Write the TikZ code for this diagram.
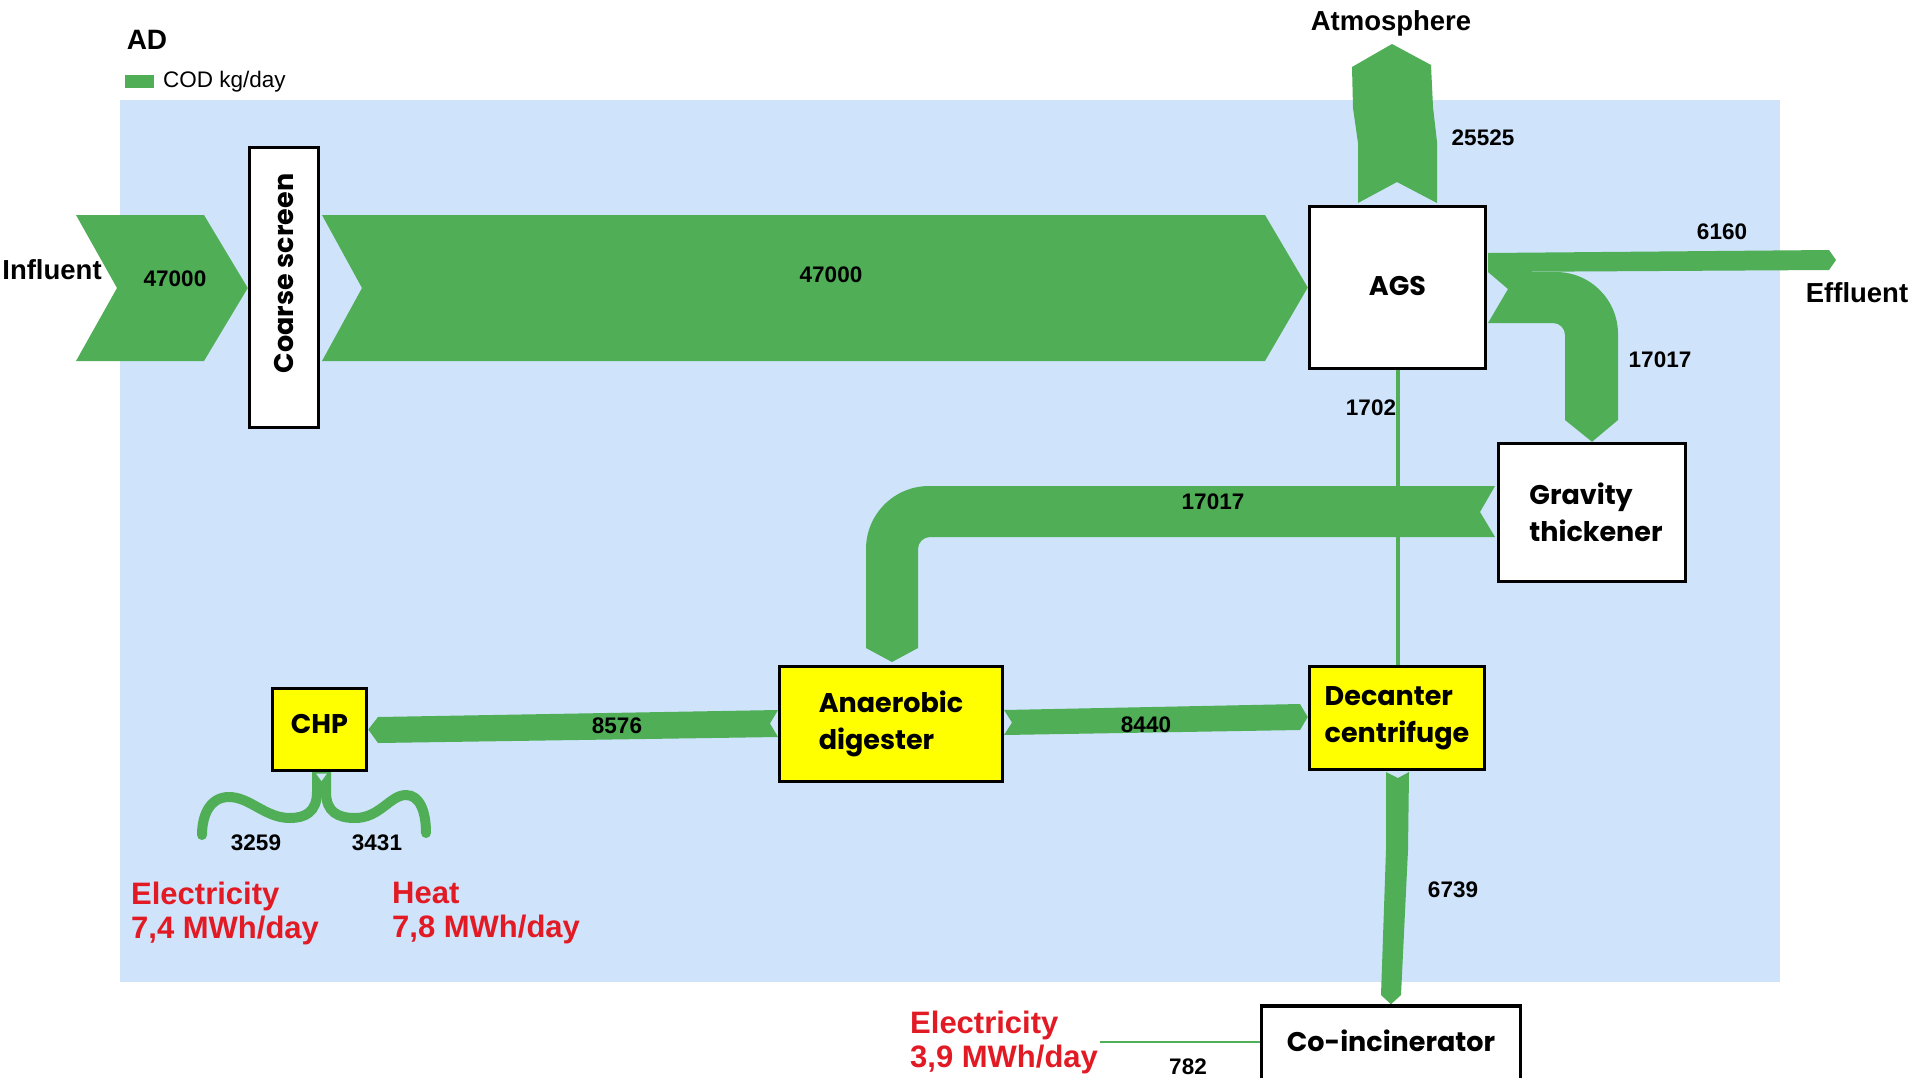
\documentclass[tikz,border=0pt]{standalone}
\usepackage{fontspec}
\setmainfont{Liberation Sans}
\newfontfamily\boxfont{Poppins}
\usetikzlibrary{calc}

\definecolor{flowgreen}{RGB}{79,174,86}
\definecolor{panelblue}{RGB}{207,227,250}
\definecolor{boxyellow}{RGB}{255,255,0}
\definecolor{energyred}{RGB}{226,26,36}

\pgfdeclarelayer{back}
\pgfdeclarelayer{mid}
\pgfsetlayers{back,mid,main}

\tikzset{
  flow/.style={fill=flowgreen, draw=none},
  unit/.style={draw=black, line width=3.5pt, fill=white, inner sep=0pt,
    font=\boxfont\bfseries\fontsize{27}{37}\selectfont, align=left},
  energy/.style={unit, fill=boxyellow},
  qty/.style={font=\bfseries\fontsize{22.5}{26}\selectfont, inner sep=0pt},
  tag/.style={font=\bfseries\fontsize{27.5}{31}\selectfont, inner sep=0pt},
  power/.style={font=\bfseries\fontsize{31}{34}\selectfont, text=energyred,
    align=left, inner sep=0pt, anchor=west},
}

\begin{document}
\begin{tikzpicture}[x=1pt, y=-1pt]
\useasboundingbox (0,0) rectangle (1917,1077);
\clip (0,0) rectangle (1917,1077);

% process units
\node[unit, minimum width=69pt, minimum height=280pt] (cs) at (284,287.5)
  {\rotatebox{90}{\hspace*{28pt}Coarse screen}};
\node[unit, minimum width=176pt, minimum height=162pt] (ags) at (1397.5,287.5)
  {\raisebox{4pt}{AGS}};
\node[unit, minimum width=187pt, minimum height=138pt] (gt) at (1592,512.5)
  {\hspace*{8pt}Gravity\\\hspace*{8pt}thickener};
\node[energy, minimum width=223pt, minimum height=115pt] (ad) at (891,724)
  {Anaerobic\\digester};
\node[energy, minimum width=175pt, minimum height=103pt] (dec) at (1397,718)
  {Decanter\\centrifuge};
\node[energy, minimum width=94pt, minimum height=82pt] (chp) at (319.5,729.5)
  {\raisebox{12pt}{CHP}};
\node[unit, minimum width=259pt, minimum height=80pt] (coinc) at (1391,1046)
  {\raisebox{10pt}{Co-incinerator}};

\begin{pgfonlayer}{back}
  \fill[white] (0,0) rectangle (1917,1077);
  \fill[panelblue] (120,100) rectangle (1780,982);
\end{pgfonlayer}

\begin{pgfonlayer}{mid}
  % influent into the coarse screen
  \fill[flow] (76,215) -- (204,215) -- (cs.west |- 0,288) -- (204,361) -- (76,361) -- (117,288) -- cycle;
  % coarse screen to AGS
  \fill[flow] (322,215) -- (1265,215) -- (ags.west) -- (1265,361) -- (322,361) -- (362,288) -- cycle;
  % AGS to atmosphere
  \fill[flow] (1358,203) -- (1358,143) -- (1353,108) -- (1352,67) -- (1392,44)
    -- (1431,65) -- (1433,107) -- (1437,142) -- (1437,203) -- (1397,182) -- cycle;
  % AGS to effluent
  \fill[flow] (1488,253) -- (1829,250) -- (1836,260) -- (1829,270) -- (1488,272) -- cycle;
  % AGS to gravity thickener
  \fill[flow] (1488,272) -- (1556,272) arc[start angle=-90, end angle=0, radius=62]
    -- (1618,420) -- (gt.north) -- (1565,420) -- (1565,335)
    arc[start angle=0, end angle=-90, radius=12] -- (1488,323) -- (1508,289) -- cycle;
  % gravity thickener to anaerobic digester
  \fill[flow] (1495,486) -- (929,486) arc[start angle=-90, end angle=-180, radius=63]
    -- (866,648) -- (892,662) -- (918,648) -- (918,549)
    arc[start angle=180, end angle=270, radius=12] -- (1495,537) -- (1480,512) -- cycle;
  % anaerobic digester to CHP
  \fill[flow] (378,717) -- (778,710) -- (770,723.5) -- (778,737) -- (378,743) -- (chp.east) -- cycle;
  % anaerobic digester to decanter centrifuge
  \fill[flow] (1004,710) -- (1300,704) -- (dec.west |- 0,717) -- (1300,730) -- (1004,735) -- (1012,722.5) -- cycle;
  % decanter centrifuge to co-incinerator
  \fill[flow] (1386,772) -- (1398,778) -- (1409,772) -- (1408,850) -- (1401,995)
    -- (coinc.north) -- (1381,995) -- (1386,850) -- cycle;
  % AGS to decanter centrifuge
  \draw[flowgreen, line width=4pt] (ags.south) -- (ags.south |- dec.north);
  % co-incinerator electricity
  \coordinate (elecend) at (1100,1042);
  \draw[flowgreen, line width=2.5pt] (coinc.west |- elecend) -- (elecend);
  % CHP outputs
  \draw[flowgreen, line width=10pt, line cap=round] (317,770) -- (317,792)
    .. controls (317,812) and (305,818) .. (290,818)
    .. controls (265,818) and (250,797) .. (229,797)
    .. controls (210,797) and (202,815) .. (202,835);
  \draw[flowgreen, line width=10pt, line cap=round] (326,770) -- (326,792)
    .. controls (326,812) and (338,818) .. (355,818)
    .. controls (380,818) and (390,795) .. (406,795)
    .. controls (420,795) and (426,812) .. (426,833);
  \fill[panelblue] (316,773.5) -- (321.5,781) -- (327,773.5) -- cycle;
\end{pgfonlayer}

% headings and legend
\node[font=\bfseries\fontsize{28}{32}\selectfont, inner sep=0pt] (title) at (147,40) {AD};
\fill[flowgreen] (125,75) rectangle (154,88);
\node[font=\fontsize{22.5}{26}\selectfont, inner sep=0pt, anchor=west] (legend) at (163,82) {COD kg/day};

% stream ends
\node[tag] (influent) at (52,270) {Influent};
\node[tag] (atm) at (1391,23) {Atmosphere};
\node[tag] (eff) at (1857,293) {Effluent};

% flow quantities
\node[qty] (q1) at (175,279) {47000};
\node[qty] (q2) at (831,275) {47000};
\node[qty] (q3) at (1483,138) {25525};
\node[qty] (q4) at (1722,232) {6160};
\node[qty] (q5) at (1660,360) {17017};
\node[qty] (q6) at (1371,408) {1702};
\node[qty] (q7) at (1213,502) {17017};
\node[qty] (q8) at (617,726) {8576};
\node[qty] (q9) at (1146,725) {8440};
\node[qty] (q10) at (1453,890) {6739};
\node[qty] (q11) at (256,843) {3259};
\node[qty] (q12) at (377,843) {3431};
\node[qty] (q13) at (1188,1067) {782};

% energy recovered
\node[power] (elec1) at (131,913) {Electricity\\7,4 MWh/day};
\node[power] (heat) at (392,913) {Heat\\7,8 MWh/day};
\node[power] (elec2) at (910,1042.5) {Electricity\\3,9 MWh/day};
\end{tikzpicture}
\end{document}
